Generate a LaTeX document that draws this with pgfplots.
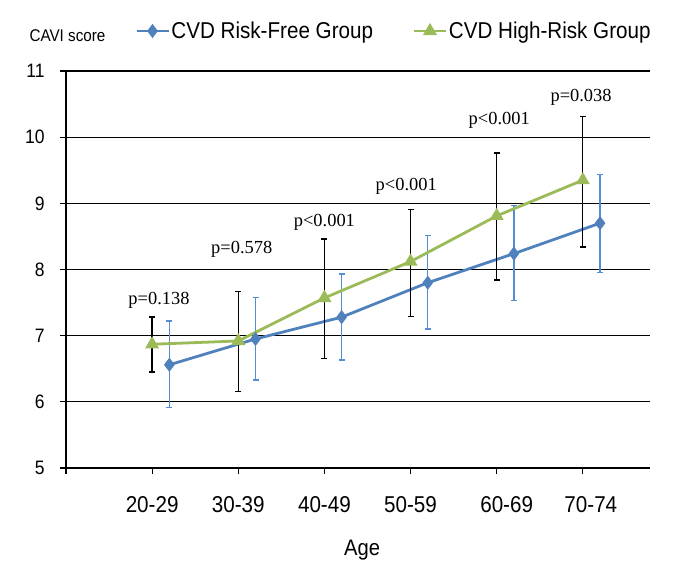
\documentclass[border=0pt]{standalone}
\usepackage{fontspec}
\setmainfont{Liberation Sans}[FakeStretch=0.9]
\newfontfamily\pfont{Liberation Serif}
\usepackage{pgfplots}
\pgfplotsset{compat=1.18}
\definecolor{cblue}{RGB}{79,129,189}
\definecolor{cgreen}{RGB}{155,187,89}
\definecolor{eblue}{RGB}{84,141,212}
\begin{document}
\begin{tikzpicture}
\path[use as bounding box] (0,0) rectangle (685bp,578bp);
\begin{axis}[
  at={(66bp,110bp)}, anchor=south west,
  scale only axis, width=584bp, height=397bp,
  xmin=0, xmax=6.78, ymin=5, ymax=11,
  axis lines=left, axis line style={-, line width=2bp},
  xtick={0,...,6},
  xticklabels={,20-29,30-39,40-49,50-59,\hspace{20bp}60-69,\hspace{16bp}70-74},
  ytick={5,...,11},
  tick align=outside, tick style={black, line width=1.2bp}, major tick length=6bp,
  ymajorgrids, grid style={black, line width=1.2bp},
  xticklabel style={font=\fontsize{23}{27}\selectfont, anchor=north, yshift=-19bp},
  yticklabel style={font=\fontsize{19.5}{23}\selectfont, anchor=east, xshift=-12bp},
  /pgf/number format/assume math mode=true,
  xlabel={Age}, ylabel={CAVI score},
  every axis x label/.style={at={(axis description cs:0.507,0)}, anchor=center, yshift=-82.5bp, font=\fontsize{22.5}{26}\selectfont},
  every axis y label/.style={at={(axis description cs:0,1)}, anchor=west, xshift=-40bp, yshift=35bp, font=\fontsize{17}{20}\selectfont},
  legend columns=2,
  legend style={at={(axis description cs:0.118,1)}, anchor=west, yshift=40bp, draw=none, fill=none, inner sep=0pt,
    font=\fontsize{23}{27}\selectfont, nodes={inner sep=1.5bp},
    /tikz/every even column/.append style={column sep=38bp}},
  legend image code/.code={\draw[mark repeat=2,mark phase=2] plot coordinates {(0bp,0bp) (16bp,0bp) (32bp,0bp)};},
]
\addplot[cblue, line width=2.8bp, mark=diamond*, mark size=4.8bp, mark options={solid},
  error bars/.cd, y dir=both, y explicit,
  error bar style={eblue, line width=1.3bp},
  error mark options={eblue, rotate=90, mark size=3bp, line width=1.3bp}]
  coordinates {
  (1.2,6.56) += (0,0.66) -= (0,0.65)
  (2.2,6.95) += (0,0.63) -= (0,0.62)
  (3.2,7.28) += (0,0.65) -= (0,0.65)
  (4.2,7.80) += (0,0.71) -= (0,0.70)
  (5.2,8.24) += (0,0.73) -= (0,0.71)
  (6.2,8.70) += (0,0.74) -= (0,0.75)
};
\addlegendentry{CVD Risk-Free Group}
\addplot[cgreen, line width=2.8bp, mark=triangle*, mark size=5.3bp, mark options={solid},
  error bars/.cd, y dir=both, y explicit,
  error bar style={black, line width=1.3bp},
  error mark options={black, rotate=90, mark size=3bp, line width=1.3bp}]
  coordinates {
  (1,6.87) += (0,0.41) -= (0,0.42)
  (2,6.92) += (0,0.75) -= (0,0.76)
  (3,7.57) += (0,0.89) -= (0,0.92)
  (4,8.12) += (0,0.79) -= (0,0.83)
  (5,8.81) += (0,0.95) -= (0,0.97)
  (6,9.35) += (0,0.96) -= (0,1.01)
};
\addlegendentry{CVD High-Risk Group}
\begin{scope}[font=\pfont\fontsize{18.5}{22}\selectfont]
\node at (axis cs:1.08,7.53) {p=0.138};
\node at (axis cs:2.04,8.30) {p=0.578};
\node at (axis cs:3.00,8.71) {p<0.001};
\node at (axis cs:3.95,9.25) {p<0.001};
\node at (axis cs:5.03,10.25) {p<0.001};
\node at (axis cs:5.98,10.60) {p=0.038};
\end{scope}
\end{axis}
\end{tikzpicture}
\end{document}
